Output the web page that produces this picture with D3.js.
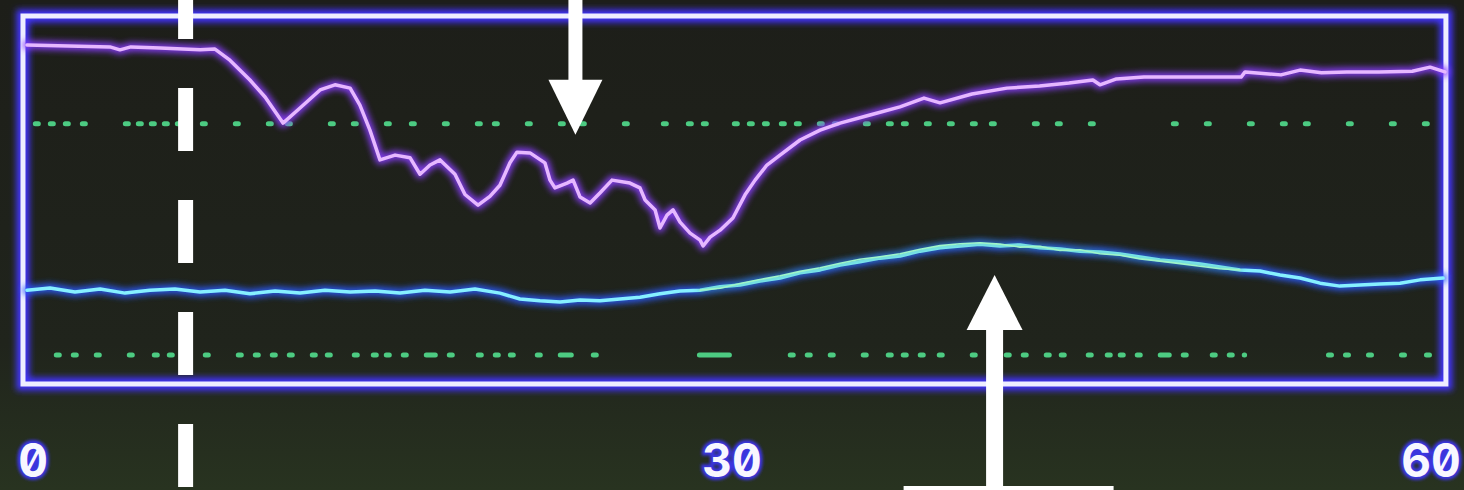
<!DOCTYPE html>
<html lang="en">
<head>
    <meta charset="UTF-8">
    <title>Monitor trace</title>
    <style>
        body { margin: 0; background: #1e2019; overflow: hidden; }
        svg { display: block; }
    </style>
</head>
<body>
<div id="chart"></div>
<script src="https://d3js.org/d3.v7.min.js"></script>
<script>
    const width = 1464, height = 490;

    // time axis (s) and tick labels
    const xTicks = [0, 30, 60];
    const xTickLabels = ["0", "30", "60"];

    // purple trace [t, value]
    const purpleTrace = [
        [-0.26, 92.1], [3.3, 91.6], [3.73, 90.8], [4.2, 91.6], [5.45, 91.3], [7.17, 90.8], [7.81, 91.0],
        [8.45, 88.0], [9.31, 82.6], [9.96, 78.0], [10.73, 70.9], [11.46, 75.0], [12.32, 79.9], [12.96, 81.3],
        [13.61, 80.4], [14.03, 75.8], [14.46, 69.0], [14.89, 60.9], [15.54, 62.2], [16.18, 61.5], [16.61, 57.0],
        [17.04, 59.5], [17.47, 60.9], [18.11, 57.0], [18.54, 51.5], [19.10, 48.6], [19.61, 51.0], [20.04, 54.0],
        [20.47, 60.1], [20.77, 63.0], [21.33, 62.8], [21.97, 60.1], [22.19, 55.4], [22.40, 53.3], [22.92, 54.6],
        [23.18, 55.4], [23.48, 50.8], [23.91, 49.2], [24.33, 51.9], [24.85, 55.4], [25.62, 54.6], [26.05, 53.3],
        [26.27, 50.0], [26.70, 47.3], [26.91, 42.4], [27.21, 45.9], [27.47, 47.3], [27.77, 44.0], [28.20, 41.0],
        [28.63, 39.1], [28.76, 37.5], [29.06, 39.9], [29.49, 41.8], [30.04, 45.1], [30.56, 51.4], [30.99, 55.4],
        [31.50, 59.5], [32.06, 62.2], [32.92, 66.3], [33.78, 69.0], [34.64, 70.9], [35.92, 73.1], [37.21, 75.3],
        [38.24, 77.7], [38.93, 76.4], [40.3, 78.8], [41.80, 80.4], [43.2, 81.0], [44.46, 81.8], [45.49, 82.6],
        [45.79, 81.3], [46.5, 82.9], [47.68, 83.4], [49.8, 83.4], [51.85, 83.4], [52.02, 84.8], [53.56, 84.0],
        [54.38, 85.3], [55.3, 84.6], [56.39, 84.8], [57.77, 84.8], [59.2, 85.0], [59.96, 86.1], [60.60, 84.8]
    ];

    // cyan trace [t, value]
    const cyanTrace = [
        [-0.26, 25.5], [0.73, 26.1], [1.80, 25.0], [2.88, 25.8], [3.95, 24.7], [5.02, 25.5], [6.09, 25.8],
        [7.17, 25.0], [8.24, 25.5], [9.31, 24.5], [10.39, 25.3], [11.46, 24.7], [12.53, 25.5], [13.61, 25.0],
        [14.68, 25.3], [15.75, 24.7], [16.82, 25.5], [17.90, 25.0], [18.97, 25.8], [20.04, 24.7], [20.90, 23.1],
        [21.76, 22.6], [22.62, 22.3], [23.48, 22.8], [24.33, 22.6], [25.19, 23.1], [26.05, 23.6], [26.91, 24.5],
        [27.77, 25.3], [28.63, 25.5], [29.49, 26.4], [30.34, 26.9], [31.20, 28.0], [32.06, 28.8], [32.92, 30.2],
        [33.78, 31.0], [34.64, 32.3], [35.49, 33.2], [36.35, 34.2], [37.21, 34.8], [38.07, 36.1], [38.93, 37.0],
        [39.79, 37.5], [40.64, 38.0], [41.50, 37.5], [42.36, 37.8], [43.22, 37.0], [44.08, 36.7], [44.94, 36.1],
        [45.79, 35.9], [46.65, 35.3], [47.51, 34.5], [48.37, 33.7], [49.23, 33.2], [50.09, 32.6], [50.94, 31.8],
        [51.80, 31.0], [52.66, 30.7], [53.52, 29.6], [54.38, 28.8], [55.24, 27.4], [56.09, 26.6], [56.95, 26.9],
        [57.81, 27.2], [58.67, 27.4], [59.53, 28.3], [60.52, 28.8]
    ];

    // faint green trace overlapping the cyan one
    const greenTrace = [
        [28.63, 25.5], [29.49, 26.0], [30.34, 27.3], [31.20, 28.4], [32.06, 29.4], [32.92, 30.6], [33.78, 31.6],
        [34.64, 32.8], [35.49, 33.9], [36.35, 34.6], [37.21, 35.4], [38.07, 36.6], [38.93, 37.6], [39.79, 38.1],
        [40.64, 38.4], [41.50, 38.0], [42.36, 37.2], [43.22, 37.4], [44.08, 36.3], [44.94, 36.5], [45.79, 35.4],
        [46.65, 35.0], [47.51, 34.0], [48.37, 33.4], [49.23, 32.7], [50.09, 32.0], [50.94, 31.3], [51.80, 31.0]
    ];

    // alarm limits (dotted green) and the stretches where they are drawn
    const upperLimit = 70.7;
    const lowerLimit = 7.9;
    const upperSegments = [[0.1, 60.4]];
    const lowerSegments = [[1.0, 25.2], [28.6, 30.3], [32.5, 52.0], [55.6, 60.4]];

    // annotations
    const markerTime = 6.55;
    const downArrow = { t: 23.28, tip: 67.7 };
    const upArrow = { t: 41.27, tip: 29.6 };

    const x = d3.scaleLinear().domain([0, 60]).range([33, 1431]);
    const y = d3.scaleLinear().domain([0, 100]).range([384, 16]);

    const svg = d3.select("#chart").append("svg")
        .attr("width", width)
        .attr("height", height);

    const defs = svg.append("defs");
    const bg = defs.append("linearGradient").attr("id", "bg").attr("x1", 0).attr("y1", 0).attr("x2", 0).attr("y2", 1);
    bg.append("stop").attr("offset", "0%").attr("stop-color", "#1d1e19");
    bg.append("stop").attr("offset", "70%").attr("stop-color", "#20241c");
    bg.append("stop").attr("offset", "100%").attr("stop-color", "#283320");

    const glow = defs.append("filter").attr("id", "glow")
        .attr("x", "-5%").attr("y", "-20%").attr("width", "110%").attr("height", "140%");
    glow.append("feGaussianBlur").attr("stdDeviation", 3);

    const soft = defs.append("filter").attr("id", "soft")
        .attr("x", "-20%").attr("y", "-20%").attr("width", "140%").attr("height", "140%");
    soft.append("feGaussianBlur").attr("stdDeviation", 1.6);

    svg.append("rect").attr("width", width).attr("height", height).attr("fill", "url(#bg)");

    // frame
    const fx0 = x(-0.43), fx1 = x(60.64);
    const frame = svg.append("g");
    frame.append("rect")
        .attr("x", fx0).attr("y", y(100)).attr("width", fx1 - fx0).attr("height", y(0) - y(100))
        .attr("fill", "none").attr("stroke", "#4234ff").attr("stroke-width", 13)
        .attr("filter", "url(#glow)");
    frame.append("rect")
        .attr("x", fx0).attr("y", y(100)).attr("width", fx1 - fx0).attr("height", y(0) - y(100))
        .attr("fill", "none").attr("stroke", "#eeeeff").attr("stroke-width", 5);

    // dotted limit lines
    const upperDash = "3 12 3 12 3 14 3 40 3 10 3 10 3 10 3 10 3 22 3 30 3 30 3 16 3 40 3 20 3 30 3 22 3 30 3 30 3 14 3 30 3 30 3 18 3 40 3 36 3 22 3 12 3 28 3 12 3 12 3 14 3 12 3 20 3 12 3 28 3 20 3 12 3 20 3 20 3 20 3 16 3 40 3 20 3 30 3 80 3 30 3 40 3 30 3 20 3 40 3 40 3 30 3 20 3 30 3 20 3 90 3 22 3 12 3 30 3 12 3 20 3 12 3 12 3 12";
    const lowerDash = "3 14 3 20 3 30 3 22 3 12 3 14 3 16 3 30 3 14 3 14 3 14 3 20 3 12 3 24 3 16 3 10 3 14 3 20 9 14 3 26 3 14 3 12 3 24 3 20 11 22 3 30 3 14";
    const limits = svg.append("g").attr("stroke", "#52de8e").attr("stroke-width", 5)
        .attr("stroke-linecap", "round").attr("opacity", 0.9);
    upperSegments.forEach(s => {
        limits.append("line")
            .attr("x1", x(s[0])).attr("x2", x(s[1]))
            .attr("y1", y(upperLimit)).attr("y2", y(upperLimit))
            .attr("stroke-dasharray", upperDash);
    });
    lowerSegments.forEach((s, i) => {
        limits.append("line")
            .attr("x1", x(s[0])).attr("x2", x(s[1]))
            .attr("y1", y(lowerLimit)).attr("y2", y(lowerLimit))
            .attr("stroke-dasharray", i === 1 ? "30 10 3 12" : lowerDash);
    });

    const line = d3.line().x(d => x(d[0])).y(d => y(d[1]));

    function trace(data, glowColor, coreColor, glowWidth, coreWidth, glowOpacity) {
        svg.append("path").datum(data)
            .attr("d", line).attr("fill", "none")
            .attr("stroke", glowColor).attr("stroke-width", glowWidth)
            .attr("stroke-linejoin", "round").attr("stroke-linecap", "round")
            .attr("filter", "url(#glow)").attr("opacity", glowOpacity);
        svg.append("path").datum(data)
            .attr("d", line).attr("fill", "none")
            .attr("stroke", coreColor).attr("stroke-width", coreWidth)
            .attr("stroke-linejoin", "round").attr("stroke-linecap", "round");
    }

    trace(cyanTrace, "#2a5cff", "#86f0ff", 9, 3.5, 0.9);
    trace(greenTrace, "#2f9a6a", "#9ff5c8", 4, 1.6, 0.5);
    trace(purpleTrace, "#8a3cff", "#e6b8ff", 9, 3.5, 0.9);

    // tick labels
    const labels = svg.append("g")
        .attr("font-family", "Inter, 'DejaVu Sans Mono', sans-serif")
        .attr("font-weight", 700).attr("font-size", 46)
        .attr("text-anchor", "middle")
        .style("font-feature-settings", "'zero' 1, 'tnum' 1");
    labels.selectAll("text.glow").data(xTicks).join("text")
        .attr("class", "glow")
        .attr("x", d => x(d)).attr("y", 477)
        .attr("fill", "#3a34e0").attr("stroke", "#3a34e0").attr("stroke-width", 6)
        .attr("filter", "url(#soft)")
        .text((d, i) => xTickLabels[i]);
    labels.selectAll("text.core").data(xTicks).join("text")
        .attr("class", "core")
        .attr("x", d => x(d)).attr("y", 477)
        .attr("fill", "#f8f7ff")
        .text((d, i) => xTickLabels[i]);

    // white annotations
    const notes = svg.append("g").attr("fill", "#ffffff");
    notes.append("line")
        .attr("x1", x(markerTime)).attr("x2", x(markerTime))
        .attr("y1", 0).attr("y2", height)
        .attr("stroke", "#ffffff").attr("stroke-width", 15)
        .attr("stroke-dasharray", "63 49").attr("stroke-dashoffset", 24);

    const dx = x(downArrow.t), dTip = y(downArrow.tip);
    notes.append("rect").attr("x", dx - 7).attr("y", 0).attr("width", 14).attr("height", dTip - 52);
    notes.append("path").attr("d", `M${dx - 27},${dTip - 55}L${dx + 27},${dTip - 55}L${dx},${dTip}Z`);

    const ux = x(upArrow.t), uTip = y(upArrow.tip);
    notes.append("rect").attr("x", ux - 8.5).attr("y", uTip + 52).attr("width", 17).attr("height", height - uTip - 52);
    notes.append("path").attr("d", `M${ux - 28},${uTip + 55}L${ux + 28},${uTip + 55}L${ux},${uTip}Z`);

    // edge of a label box cut off at the bottom
    notes.append("rect").attr("x", ux - 91).attr("y", 486).attr("width", 210).attr("height", 4);
</script>
</body>
</html>
